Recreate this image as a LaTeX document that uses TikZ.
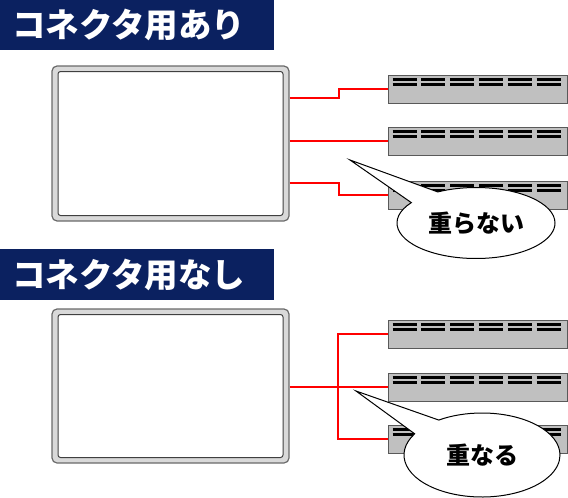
\documentclass[tikz,border=0pt]{standalone}
\usepackage{fontspec}
\newfontfamily\jp{Noto Sans CJK JP}
\usetikzlibrary{calc,shapes.callouts,shapes.geometric}
\definecolor{navy}{HTML}{0B2160}
\definecolor{srvfill}{HTML}{C0C0C0}
\definecolor{srvline}{HTML}{595959}
\definecolor{frame}{HTML}{D9D9D9}
\definecolor{frameline}{HTML}{6A6A6A}
\definecolor{cablered}{HTML}{FF0000}
\tikzset{
  titlebar/.style={fill=navy, text=white, anchor=north west, minimum height=50pt,
    inner xsep=12pt, inner ysep=0pt, text width=250pt, align=left,
    font=\jp\bfseries\fontsize{33.5}{33.5}\selectfont},
  screenout/.style={draw=frameline, fill=frame, line width=1.2pt, rounded corners=5pt,
    minimum width=237pt, inner sep=0pt},
  screenin/.style={draw=black!75, fill=white, line width=1pt, rounded corners=2.5pt,
    minimum width=225pt, inner sep=0pt},
  server/.style={draw=srvline, fill=srvfill, line width=0.9pt, minimum width=179pt,
    minimum height=28pt, inner sep=0pt},
  slot/.style={line width=2.3pt, black},
  cable/.style={draw=cablered, line width=2.2pt},
  bubble/.style={ellipse callout, draw=black, fill=white, line width=1pt, inner sep=0pt,
    callout pointer arc=26, font=\jp\bfseries\fontsize{24}{24}\selectfont}
}
\newcommand{\slots}[1]{%
  \foreach \i in {0,...,5}{%
    \draw[slot] ($(#1.north west)+(5+\i*28.8,5)$) -- ++(24,0);
    \draw[slot] ($(#1.north west)+(5+\i*28.8,10)$) -- ++(24,0);
  }}
\begin{document}
\begin{tikzpicture}[x=1pt,y=-1pt]
\useasboundingbox (0,0) rectangle (568,498);
% ---------- upper part ----------
\node[titlebar] (t1) at (0,0) {コネクタ用あり};
\node[screenout, minimum height=155pt] (scrA) at (170.5,143.5) {};
\node[screenin, minimum height=144pt] (scrAin) at (170.5,143.5) {};
\node[server] (a1) at (477.5,89) {};
\node[server] (a2) at (477.5,141) {};
\node[server] (a3) at (477.5,195) {};
\slots{a1}\slots{a2}\slots{a3}
\coordinate (pa1) at (scrA.east |- 0,98);
\coordinate (pa2) at (scrA.east |- 0,141);
\coordinate (pa3) at (scrA.east |- 0,183);
\draw[cable] (pa1) -- (339,98) |- (a1.west);
\draw[cable] (pa2) -- (a2.west);
\draw[cable] (pa3) -- (339,183) |- (a3.west);
\coordinate (tipA) at (350,160);
\node[bubble, minimum width=158pt, minimum height=71pt, callout absolute pointer={(tipA)}] (bA) at (476,223) {重らない};
% ---------- lower part ----------
\node[titlebar, minimum height=51pt] (t2) at (0,249) {コネクタ用なし};
\node[screenout, minimum height=154pt] (scrB) at (170.5,386) {};
\node[screenin, minimum height=143pt] (scrBin) at (170.5,386) {};
\node[server] (b1) at (477.5,334) {};
\node[server] (b2) at (477.5,387) {};
\node[server] (b3) at (477.5,439) {};
\slots{b1}\slots{b2}\slots{b3}
\coordinate (pb) at (scrB.east |- 0,387);
\coordinate (jb) at (338,387);
\draw[cable] (pb) -- (b2.west);
\draw[cable] (jb) |- (b1.west);
\draw[cable] (jb) |- (b3.west);
\coordinate (tipB) at (356,391);
\node[bubble, minimum width=156pt, minimum height=84pt, callout absolute pointer={(tipB)}] (bB) at (482,455) {重なる};
\end{tikzpicture}
\end{document}
